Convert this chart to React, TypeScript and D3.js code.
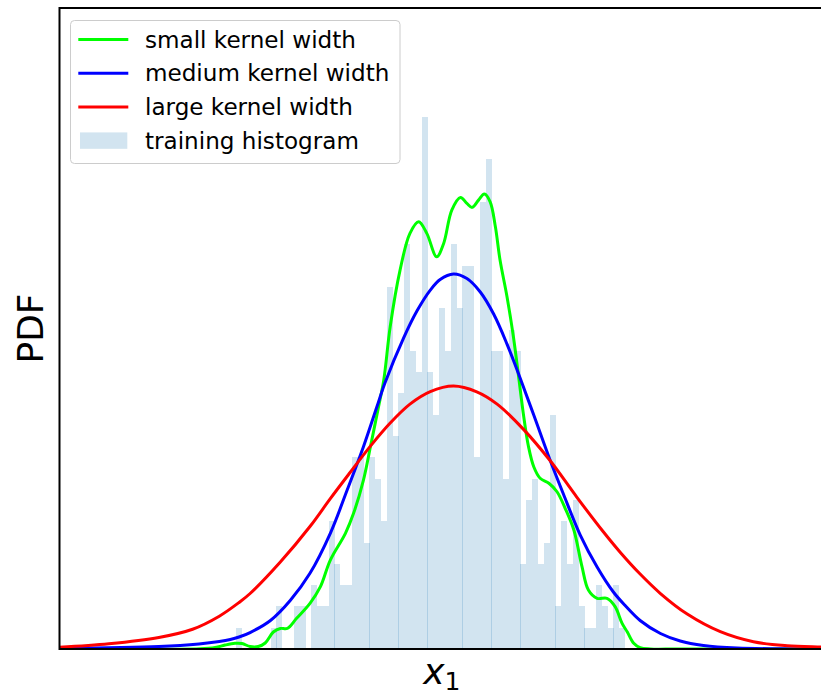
import React from 'react';
import * as d3 from 'd3';

// ---------- data ----------
const binStart = -3.4;
const binWidth = 0.1;
const histCounts = [
  1, 0, 0, 0, 0, 0, 1, 2, 0, 0,
  2, 2, 0, 3, 2, 2, 6, 4, 3, 3,
  9, 9, 5, 9, 8, 6, 17, 10, 12, 19,
  14, 13, 25, 13, 11, 16, 14, 19, 16, 18,
  18, 9, 21, 23, 14, 14, 8, 15, 14, 4,
  7, 8, 4, 5, 11, 2, 6, 4, 7, 2,
  1, 1, 3, 2, 1, 3, 1,
];

const smallKernel: [number, number][] = [
  [-6.44, 0], [-4.02, 0.0002], [-3.76, 0.0014], [-3.59, 0.0037], [-3.42, 0.0053], [-3.3, 0.0051],
  [-3.16, 0.0023], [-3.02, 0.0023], [-2.9, 0.0056], [-2.76, 0.0159], [-2.64, 0.0192], [-2.52, 0.0192],
  [-2.36, 0.0287], [-2.13, 0.0427], [-1.95, 0.0583], [-1.78, 0.0832], [-1.52, 0.1082], [-1.38, 0.1269],
  [-1.21, 0.158], [-1.09, 0.1892], [-0.95, 0.2266], [-0.86, 0.2516], [-0.75, 0.3014], [-0.58, 0.3544],
  [-0.41, 0.3888], [-0.26, 0.3996], [-0.12, 0.3888], [0.05, 0.3669], [0.17, 0.3794], [0.31, 0.4106],
  [0.46, 0.4224], [0.57, 0.4168], [0.66, 0.4131], [0.77, 0.4199], [0.87, 0.4255], [0.97, 0.4183],
  [1.06, 0.3949], [1.14, 0.3638], [1.26, 0.3295], [1.37, 0.2921], [1.46, 0.2547], [1.54, 0.2204],
  [1.63, 0.1892], [1.72, 0.1705], [1.83, 0.1597], [1.98, 0.155], [2.12, 0.1471], [2.26, 0.1316],
  [2.41, 0.1113], [2.55, 0.077], [2.66, 0.0552], [2.81, 0.0474], [2.98, 0.0474], [3.12, 0.0396],
  [3.24, 0.024], [3.33, 0.0159], [3.44, 0.0053], [3.55, 0.0012], [3.73, 0], [4.2, 0], [6.72, 0],
];

const mediumKernel: [number, number][] = [
  [-6.44, 0.0004], [-4.73, 0.0023], [-4.04, 0.0047], [-3.69, 0.007], [-3.5, 0.0089], [-3.35, 0.0112],
  [-3.16, 0.0154], [-2.81, 0.0267], [-2.47, 0.0454], [-2.13, 0.0708], [-1.78, 0.1082], [-1.49, 0.1487],
  [-1.21, 0.1892], [-0.98, 0.2263], [-0.84, 0.2488], [-0.52, 0.2908], [-0.29, 0.3161], [-0.06, 0.3357],
  [0.11, 0.3456], [0.34, 0.3507], [0.57, 0.3465], [0.8, 0.3339], [1.03, 0.3133], [1.26, 0.2852],
  [1.46, 0.2572], [1.72, 0.2188], [2.0, 0.1768], [2.23, 0.145], [2.52, 0.1066], [2.81, 0.0767],
  [3.09, 0.0533], [3.3, 0.0402], [3.55, 0.0267], [3.9, 0.0145], [4.24, 0.0075], [4.64, 0.0033],
  [5.22, 0.0009], [5.96, 0.0002], [6.72, 0],
];

const largeKernel: [number, number][] = [
  [-6.44, 0.0016], [-5.59, 0.0049], [-4.73, 0.0108], [-4.15, 0.0185], [-3.69, 0.0307], [-3.35, 0.0435],
  [-3.16, 0.0519], [-2.64, 0.0814], [-2.13, 0.1146], [-1.78, 0.1407], [-1.44, 0.1651], [-1.09, 0.1898],
  [-0.75, 0.2114], [-0.41, 0.2291], [-0.06, 0.2408], [0.34, 0.246], [0.74, 0.2406], [1.09, 0.2291],
  [1.54, 0.2057], [2.0, 0.1763], [2.46, 0.1421], [2.92, 0.1094], [3.21, 0.0903], [3.55, 0.0701],
  [3.9, 0.0519], [4.36, 0.0327], [4.93, 0.0162], [5.5, 0.0068], [6.08, 0.0031], [6.65, 0.0019],
  [6.72, 0.0017],
];

const legendLabels = ['small kernel width', 'medium kernel width', 'large kernel width', 'training histogram'];
const curveColors = ['#00ff00', '#0000ff', '#ff0000'];
const histColor = '#1f77b4';

// ---------- layout ----------
const W = 821;
const H = 693;
const plot = { left: 59.5, right: 824, top: 8, bottom: 649 };
const xDomain: [number, number] = [-6.4391, 6.7135];
const yDomain: [number, number] = [0, 0.5996];
const FONT = '"DejaVu Sans", "Liberation Sans", sans-serif';

export default function App() {
  const x = d3.scaleLinear().domain(xDomain).range([plot.left, plot.right]);
  const y = d3.scaleLinear().domain(yDomain).range([plot.bottom, plot.top]);
  const total = d3.sum(histCounts);

  const line = d3
    .line<[number, number]>()
    .x((d) => x(d[0]))
    .y((d) => y(d[1]))
    .curve(d3.curveCatmullRom.alpha(0.5));

  const bars = histCounts.map((c, i) => {
    const e0 = binStart + i * binWidth;
    const px0 = Math.floor(x(e0));
    const pw = Math.round(x(e0 + binWidth) - x(e0));
    const dens = c / (total * binWidth);
    const py = Math.round(y(dens));
    return { px0, pw, py, c, i };
  });

  const series = [smallKernel, mediumKernel, largeKernel];

  const legX = 70.5;
  const legY = 20.5;
  const rowY = (i: number) => 39.5 + i * 33.7;

  return (
    <svg
      width={W}
      height={H}
      style={{ position: 'absolute', left: 0, top: 0, background: '#fff' }}
      fontFamily={FONT}
    >
      <defs>
        <clipPath id="plotClip">
          <rect x={plot.left} y={plot.top} width={plot.right - plot.left} height={plot.bottom - plot.top} />
        </clipPath>
      </defs>
      <rect x={0} y={0} width={W} height={H} fill="#fff" />

      <g clipPath="url(#plotClip)">
        {bars
          .filter((b) => b.c > 0)
          .map((b) => (
            <rect
              key={b.i}
              x={b.px0}
              y={b.py}
              width={b.pw}
              height={plot.bottom - b.py}
              fill={histColor}
              fillOpacity={0.2}
              shapeRendering="crispEdges"
            />
          ))}
        {series.map((s, i) => (
          <path
            key={i}
            d={line(s) || ''}
            fill="none"
            stroke={curveColors[i]}
            strokeWidth={3}
            strokeLinejoin="round"
            strokeLinecap="butt"
          />
        ))}
      </g>

      {/* spines */}
      <rect
        x={plot.left}
        y={plot.top}
        width={plot.right - plot.left}
        height={plot.bottom - plot.top}
        fill="none"
        stroke="#000"
        strokeWidth={2}
      />

      {/* legend */}
      <rect
        x={legX}
        y={legY}
        width={329.5}
        height={143}
        rx={4}
        fill="#fff"
        fillOpacity={0.8}
        stroke="#cccccc"
        strokeWidth={1}
      />
      {curveColors.map((c, i) => (
        <line key={i} x1={78.3} x2={128.3} y1={rowY(i)} y2={rowY(i)} stroke={c} strokeWidth={3} />
      ))}
      <rect x={80} y={rowY(3) - 8.2} width={47.3} height={16.4} fill={histColor} fillOpacity={0.2} />
      {legendLabels.map((t, i) => (
        <text key={t} x={145} y={rowY(i) + 8} fontSize={23.1} fill="#000">
          {t}
        </text>
      ))}

      {/* axis labels */}
      <text
        x={42.5}
        y={(plot.top + plot.bottom) / 2}
        transform={`rotate(-90, 42.5, ${(plot.top + plot.bottom) / 2})`}
        textAnchor="middle"
        fontSize={36}
        fill="#000"
      >
        PDF
      </text>
      <text x={(plot.left + plot.right) / 2} y={684} textAnchor="middle" fontSize={36} fill="#000">
        <tspan fontStyle="italic">x</tspan>
        <tspan fontSize={25} dy={5.5}>1</tspan>
      </text>
    </svg>
  );
}
